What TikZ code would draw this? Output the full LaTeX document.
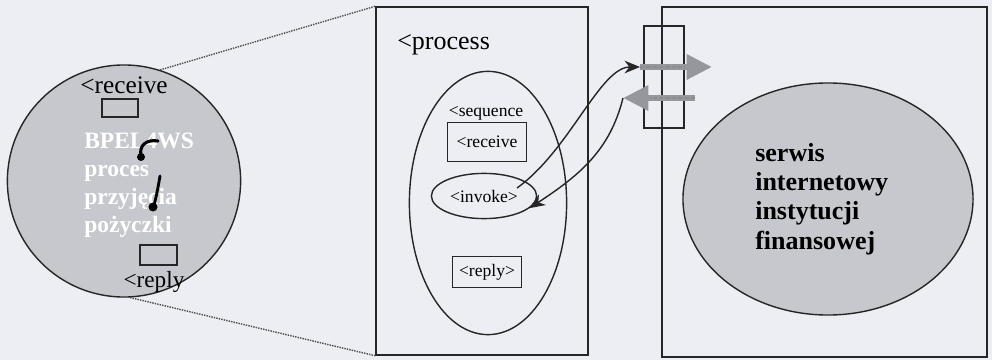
\documentclass[tikz,border=0pt]{standalone}
\usepackage{fontspec}
\setmainfont{Liberation Serif}
\usepackage{xcolor}
\usetikzlibrary{arrows.meta,positioning,calc,shapes.geometric}

\definecolor{paper}{RGB}{236,238,243}
\definecolor{shade}{RGB}{198,200,206}
\definecolor{arrowgray}{RGB}{150,150,157}

\begin{document}
\begin{tikzpicture}[x=0.025cm,y=-0.025cm,
		ink/.style={draw=black!85, line width=1pt},
		oval/.style={ink, ellipse, inner sep=0pt},
		shadedoval/.style={oval, fill=shade},
		tagbox/.style={ink, rectangle, inner sep=0pt},
		tag/.style={font=\fontsize{12.5}{14}\selectfont},
		bigtag/.style={font=\fontsize{18}{20}\selectfont, inner sep=0pt},
		flow/.style={draw=black!85, line width=1pt, -{Stealth[length=11pt,width=9pt,inset=3.5pt]}},
		msg/.style={draw=arrowgray, line width=4.5pt, -{Triangle[length=18pt,width=17pt]}},
		link/.style={draw=black!70, line width=1pt, dash pattern=on 1pt off 0.8pt}]
		\useasboundingbox (0,0) rectangle (992,360);
		\fill[paper] (0,0) rectangle (992,360);

		% BPEL process (zoomed out)
		\node[shadedoval, minimum width=5.83cm, minimum height=5.8cm] (loan) at (124,181) {};
		\node[bigtag] (lrecv) at (124,85) {<receive};
		\node[tagbox, minimum width=0.9cm, minimum height=0.45cm] (lrecvbox) at (120,108) {};
		\node[tagbox, minimum width=0.93cm, minimum height=0.5cm] (lreplybox) at (158.5,255) {};
		\node[bigtag, font=\fontsize{16.5}{18}\selectfont] (lreply) at (154,282) {<reply};
		\node[font=\bfseries\fontsize{16.7}{19.8}\selectfont, text=white, align=left, anchor=west, inner sep=0pt] (loantext) at (84,185) {BPEL4WS\\proces\\przyjęcia\\pożyczki};
		\draw[line width=2.2pt, line cap=round] (158,141) .. controls (146,139) and (139,146) .. (141,155);
		\fill (141,157) circle (4);
		\draw[line width=2pt, line cap=round] (160,176) .. controls (158,188) and (156,198) .. (154,205);
		\fill (153,207) circle (4.5);

		% process details
		\node[ink, minimum width=5.3cm, minimum height=8.7cm] (proc) at (482,181) {};
		\node[bigtag, font=\fontsize{18.5}{20}\selectfont, anchor=west] (proclabel) at (397,45) {<process};
		\node[oval, minimum width=3.93cm, minimum height=6.58cm] (seq) at (488,203) {};
		\node[tag] (seqlabel) at (486,113) {<sequence};
		\node[tagbox, tag, minimum width=1.98cm, minimum height=0.98cm] (recv) at (487,142) {<receive};
		\node[oval, tag, minimum width=2.63cm, minimum height=1.13cm] (invoke) at (484,196) {<invoke>};
		\node[tagbox, tag, minimum width=1.73cm, minimum height=0.78cm] (reply) at (487,272) {<reply>};

		% zoom lines
		\draw[link] (loan.72) -- (proc.north west);
		\draw[link] (loan.273) -- (proc.south west);

		% financial institution
		\node[ink, minimum width=8.13cm, minimum height=8.75cm] (bank) at (824.5,182) {};
		\node[shadedoval, minimum width=7.25cm, minimum height=5.8cm] (banksvc) at (828,199) {};
		\node[font=\bfseries\fontsize{18.5}{20.8}\selectfont, align=left, anchor=west, inner sep=0pt] (banktext) at (755,199) {serwis\\internetowy\\instytucji\\finansowej};
		\node[ink, minimum width=1cm, minimum height=2.55cm] (port) at (664,77) {};

		% messages through the port
		\coordinate (outtail) at (640,67);
		\coordinate (outtip) at (712,67);
		\coordinate (intail) at (695,98);
		\coordinate (intip) at (623,98);
		\draw[msg] (outtail) -- (outtip);
		\draw[msg] (intail) -- (intip);
		\draw[black!45, line width=1.2pt, dash pattern=on 3pt off 1.5pt] (outtail) -- ++(45,0);
		\draw[black!45, line width=1.2pt, dash pattern=on 3pt off 1.5pt] (intail) -- ++(-45,0);

		\draw[flow] ($(invoke.center)+(33,-8)$) .. controls (570,150) and (600,67) .. (outtail);
		\draw[flow] (intip) .. controls (610,150) and (580,175) .. (invoke.-15);
	\end{tikzpicture}
\end{document}
